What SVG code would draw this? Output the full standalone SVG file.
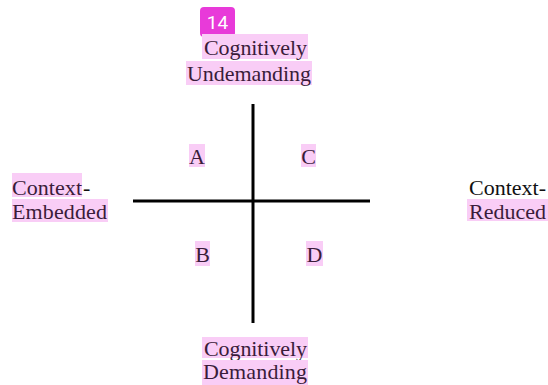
<svg xmlns="http://www.w3.org/2000/svg" width="548" height="385" viewBox="0 0 548 385">
  <style>
    .hl { fill: #f9cdf6; }
    .t { font-family: "Liberation Serif", "Times New Roman", serif; font-size: 22px; fill: #3a1c3a; }
    .tb { font-family: "Liberation Serif", "Times New Roman", serif; font-size: 22px; fill: #111111; }
    .axis { stroke: #000000; stroke-width: 3; fill: none; }
    .badge { fill: #e83ad9; }
    .badge-t { font-family: Roboto, "Liberation Sans", sans-serif; font-size: 19px; fill: #ffffff; }
  </style>
  <rect width="548" height="385" fill="#ffffff"/>

  <g id="connectors">
    <line class="axis" x1="253" y1="104" x2="253" y2="323"/>
    <line class="axis" x1="133" y1="201" x2="370" y2="201"/>
  </g>

  <g id="badge">
    <rect class="badge" x="200" y="7" width="35" height="30" rx="4"/>
    <text class="badge-t" x="217.5" y="29" text-anchor="middle">14</text>
  </g>

  <g id="top-label">
    <rect class="hl" x="202" y="34" width="106" height="25"/>
    <text class="t" x="204" y="55" textLength="103" lengthAdjust="spacing">Cognitively</text>
    <rect class="hl" x="186" y="61" width="126" height="24"/>
    <text class="t" x="187" y="81" textLength="124" lengthAdjust="spacing">Undemanding</text>
  </g>

  <g id="left-label">
    <rect class="hl" x="12" y="173" width="70" height="24"/>
    <text class="t" x="12" y="195" textLength="70" lengthAdjust="spacing">Context</text>
    <text class="tb" x="83" y="195">-</text>
    <rect class="hl" x="12" y="199" width="96" height="23"/>
    <text class="t" x="12" y="219" textLength="95" lengthAdjust="spacing">Embedded</text>
  </g>

  <g id="right-label">
    <text class="tb" x="469" y="195" textLength="77" lengthAdjust="spacing">Context-</text>
    <rect class="hl" x="467" y="199" width="81" height="22"/>
    <text class="t" x="469" y="219" textLength="77" lengthAdjust="spacing">Reduced</text>
  </g>

  <g id="quadrant-a">
    <rect class="hl" x="189" y="144" width="16" height="23"/>
    <text class="t" x="197" y="164" text-anchor="middle">A</text>
  </g>
  <g id="quadrant-c">
    <rect class="hl" x="301" y="144" width="15" height="23"/>
    <text class="t" x="308.5" y="164" text-anchor="middle">C</text>
  </g>
  <g id="quadrant-b">
    <rect class="hl" x="195" y="241" width="15" height="25"/>
    <text class="t" x="202.5" y="262" text-anchor="middle">B</text>
  </g>
  <g id="quadrant-d">
    <rect class="hl" x="306" y="241" width="17" height="25"/>
    <text class="t" x="314.5" y="262" text-anchor="middle">D</text>
  </g>

  <g id="bottom-label">
    <rect class="hl" x="202" y="337" width="106" height="21"/>
    <text class="t" x="204" y="356" textLength="103" lengthAdjust="spacing">Cognitively</text>
    <rect class="hl" x="202" y="360" width="106" height="25"/>
    <text class="t" x="203" y="379" textLength="104" lengthAdjust="spacing">Demanding</text>
  </g>
</svg>
